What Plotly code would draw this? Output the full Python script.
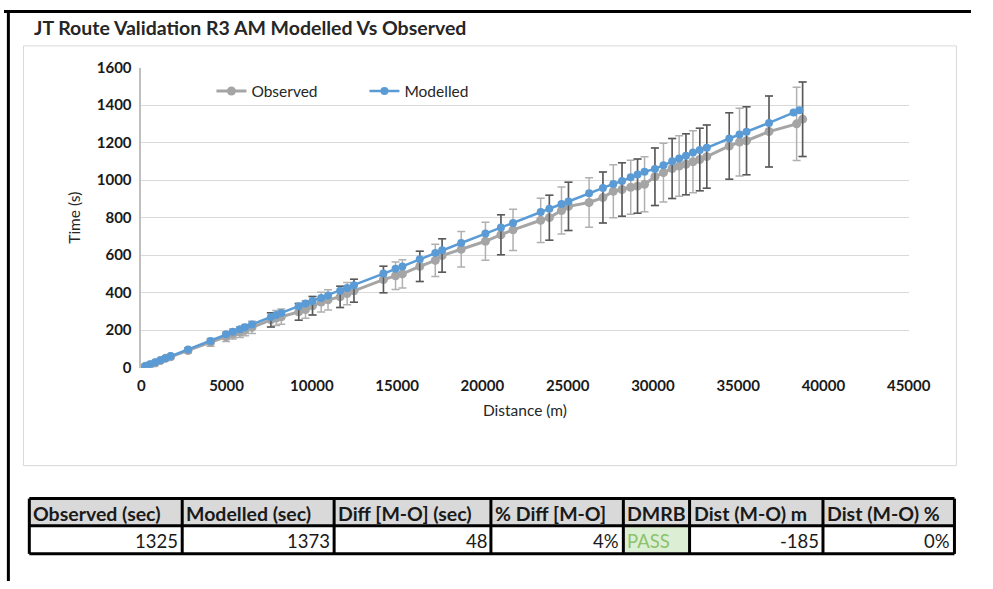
import plotly.graph_objects as go

W, H = 993, 589

# ---------------- data ----------------
obs_dist = [0, 250, 510, 810, 1120, 1420, 1720, 2740, 4060, 4970, 5370, 5780, 6080, 6490,
            7600, 7910, 8210, 9230, 9630, 10040, 10550, 10950, 11660, 12070, 12470,
            14200, 14910, 15310, 16330, 17240, 17640, 18760, 20180, 21090, 21800,
            23420, 23930, 24640, 25050, 26260, 27070, 27680, 28190, 28700, 29100,
            29510, 30120, 30620, 31130, 31540, 31940, 32350, 32750, 33160, 34480,
            35080, 35490, 36810, 38430, 38780]
obs_time = [0, 8, 15, 25, 38, 50, 58, 92, 135, 165, 180, 190, 200, 215,
            255, 265, 272, 298, 310, 330, 350, 362, 378, 395, 410,
            470, 490, 500, 540, 572, 598, 631, 674, 709, 735,
            786, 800, 838, 860, 881, 907, 941, 950, 962, 968,
            978, 1018, 1040, 1062, 1075, 1085, 1098, 1110, 1125, 1182,
            1203, 1210, 1259, 1300, 1325]

mod_dist = [0, 250, 510, 810, 1120, 1420, 1720, 2740, 4060, 4970, 5370, 5780, 6080, 6490,
            7600, 7910, 8210, 9230, 9630, 10040, 10550, 10950, 11660, 12070, 12470,
            14200, 14910, 15310, 16330, 17240, 17640, 18760, 20180, 21090, 21800,
            23420, 23930, 24640, 25050, 26260, 27070, 27680, 28190, 28700, 29100,
            29510, 30120, 30620, 31130, 31540, 31940, 32350, 32750, 33160, 34480,
            35080, 35490, 36810, 38250, 38595]
mod_time = [0, 9, 18, 29, 40, 51, 62, 97, 143, 178, 192, 205, 216, 230,
            270, 281, 292, 328, 342, 356, 372, 385, 410, 425, 440,
            502, 527, 540, 578, 612, 626, 665, 715, 748, 772,
            830, 848, 873, 886, 930, 958, 980, 995, 1015, 1030,
            1045, 1060, 1080, 1100, 1115, 1130, 1147, 1160, 1172, 1222,
            1243, 1258, 1305, 1360, 1373]

# indices of observed points whose error bars are drawn dark
dark_bar_idx = [14, 17, 19, 22, 24, 25, 28, 30, 33, 36, 38, 40, 42, 44, 46,
                48, 50, 52, 53, 54, 56, 57, 59]

x_ticks = [0, 5000, 10000, 15000, 20000, 25000, 30000, 35000, 40000, 45000]
y_ticks = [0, 200, 400, 600, 800, 1000, 1200, 1400, 1600]

table_headers = ["Observed (sec)", "Modelled (sec)", "Diff [M-O] (sec)", "% Diff [M-O]",
                 "DMRB", "Dist (M-O) m", "Dist (M-O) %"]
table_values = ["1325", "1373", "48", "4%", "PASS", "-185", "0%"]

# ---------------- styling / layout helpers ----------------
FONT = "Lato"
GREY = "#a5a5a5"
BLUE = "#5b9bd5"
col_edges = [26, 183, 339, 500, 636, 704, 841, 976]   # table column edges (px)
row_edges = [504, 532, 561]                           # table row edges (px)
value_align = ["right", "right", "right", "right", "left", "right", "right"]
value_fill = ["white", "white", "white", "white", "#dcefd5", "white", "white"]
value_color = ["#1a1a1a", "#1a1a1a", "#1a1a1a", "#1a1a1a", "#8cc26a", "#1a1a1a", "#1a1a1a"]


def px_x(p):
    return p / W


def px_y(p):
    return 1 - p / H


fig = go.Figure()

fig.add_trace(go.Scatter(
    x=obs_dist, y=obs_time, name="Observed", mode="lines+markers",
    line=dict(color=GREY, width=3),
    marker=dict(color=GREY, size=9, symbol="circle"),
    error_y=dict(type="percent", value=15, color="#b0b0b0", thickness=1.5, width=4),
))
fig.add_trace(go.Scatter(
    x=[obs_dist[i] for i in dark_bar_idx], y=[obs_time[i] for i in dark_bar_idx],
    mode="markers", marker=dict(opacity=0, size=1), showlegend=False, hoverinfo="skip",
    error_y=dict(type="percent", value=15, color="#595959", thickness=1.5, width=4),
))
fig.add_trace(go.Scatter(
    x=mod_dist, y=mod_time, name="Modelled", mode="lines+markers",
    line=dict(color=BLUE, width=2.5),
    marker=dict(color=BLUE, size=8, symbol="circle"),
))

shapes = [
    dict(type="rect", xref="paper", yref="paper", x0=px_x(20), x1=px_x(978),
         y0=px_y(470), y1=px_y(37), line=dict(color="#d9d9d9", width=1), layer="below"),
    dict(type="line", xref="paper", yref="paper", x0=0, x1=1, y0=px_y(1.5), y1=px_y(1.5),
         line=dict(color="black", width=3)),
    dict(type="line", xref="paper", yref="paper", x0=px_x(4.5), x1=px_x(4.5), y0=0, y1=1,
         line=dict(color="black", width=3)),
]
annotations = [
    dict(text="<b>JT Route Validation R3 AM Modelled Vs Observed</b>", xref="paper",
         yref="paper", x=px_x(29), y=px_y(18), xanchor="left", yanchor="middle",
         showarrow=False, font=dict(family=FONT, size=19.5, color="#262626")),
]

# table cells
for i in range(len(table_headers)):
    x0, x1 = col_edges[i], col_edges[i + 1]
    shapes.append(dict(type="rect", xref="paper", yref="paper", x0=px_x(x0), x1=px_x(x1),
                       y0=px_y(row_edges[1]), y1=px_y(row_edges[0]),
                       fillcolor="#d9d9d9", line=dict(width=0), layer="below"))
    shapes.append(dict(type="rect", xref="paper", yref="paper", x0=px_x(x0), x1=px_x(x1),
                       y0=px_y(row_edges[2]), y1=px_y(row_edges[1]),
                       fillcolor=value_fill[i], line=dict(width=0), layer="below"))
    annotations.append(dict(text="<b>%s</b>" % table_headers[i], xref="paper", yref="paper",
                            x=px_x(x0 + 2), y=px_y((row_edges[0] + row_edges[1]) / 2 + 1),
                            xanchor="left", yanchor="middle", showarrow=False,
                            font=dict(family=FONT, size=19.5, color="#1a1a1a")))
    if value_align[i] == "right":
        ax, anc = px_x(x1 - 2), "right"
    else:
        ax, anc = px_x(x0 + 2), "left"
    annotations.append(dict(text=table_values[i], xref="paper", yref="paper",
                            x=ax, y=px_y((row_edges[1] + row_edges[2]) / 2 + 1),
                            xanchor=anc, yanchor="middle", showarrow=False,
                            font=dict(family=FONT, size=18.5, color=value_color[i])))

# table borders
for ry in row_edges:
    shapes.append(dict(type="line", xref="paper", yref="paper", x0=px_x(col_edges[0]),
                       x1=px_x(col_edges[-1]), y0=px_y(ry), y1=px_y(ry),
                       line=dict(color="black", width=3)))
for cx in col_edges:
    shapes.append(dict(type="line", xref="paper", yref="paper", x0=px_x(cx), x1=px_x(cx),
                       y0=px_y(row_edges[-1]), y1=px_y(row_edges[0]),
                       line=dict(color="black", width=3)))

fig.update_layout(
    width=W, height=H, autosize=False,
    margin=dict(l=0, r=0, t=0, b=0),
    paper_bgcolor="white", plot_bgcolor="white",
    font=dict(family=FONT, color="#404040"),
    showlegend=True,
    legend=dict(orientation="h", x=px_x(213), y=px_y(84), xanchor="left", yanchor="middle",
                font=dict(family=FONT, size=15.5, color="#262626"),
                bgcolor="rgba(0,0,0,0)", entrywidth=108, entrywidthmode="pixels",
                itemwidth=30),
    xaxis=dict(domain=[px_x(141), px_x(929)], range=[0, 45000], tickvals=x_ticks,
               ticktext=[str(v) for v in x_ticks], showgrid=False, zeroline=False,
               showline=False, ticks="", ticklabelstandoff=7,
               tickfont=dict(family=FONT, size=15, color="#1a1a1a", weight="bold"),
               title=dict(text="Distance (m)", font=dict(family=FONT, size=15.5, color="#262626"),
                          standoff=12)),
    yaxis=dict(domain=[px_y(369), px_y(59.4)], range=[0, 1600], tickvals=y_ticks,
               ticktext=[str(v) for v in y_ticks], showgrid=True, gridcolor="#d9d9d9",
               gridwidth=1, zeroline=False, showline=True, linecolor="#bfbfbf", linewidth=1.5,
               ticks="", ticklabelstandoff=5,
               tickfont=dict(family=FONT, size=15, color="#1a1a1a", weight="bold"),
               title=dict(text="Time (s)", font=dict(family=FONT, size=15.5, color="#262626"),
                          standoff=12)),
    shapes=shapes,
    annotations=annotations,
)

fig.write_html("out.html",
               post_script="document.body.style.margin='0';document.body.style.overflow='hidden';")
